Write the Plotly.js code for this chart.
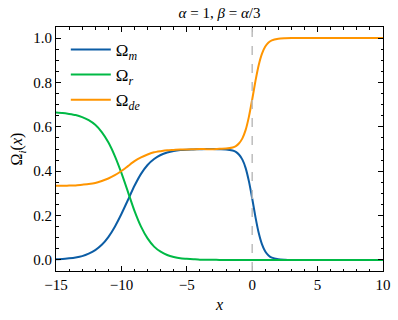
<!DOCTYPE html>
<html>
<head>
<meta charset="utf-8">
<script src="https://cdn.plot.ly/plotly-3.0.1.min.js"></script>
<style>
  body { margin: 0; background: #fff; }
  #plot { width: 398px; height: 320px; }
</style>
</head>
<body>
<div id="plot"></div>
<script>
// x grid of the curves
const xVals = [-15, -14.5, -14, -13.5, -13, -12.5, -12, -11.5, -11, -10.5, -10, -9.5, -9, -8.5, -8,
    -7.5, -7, -6.5, -6, -5.5, -5, -4.5, -4, -3.5, -3, -2.5, -2, -1.5, -1.25, -1, -0.75, -0.5, -0.25,
    0, 0.25, 0.5, 0.75, 1, 1.25, 1.5, 2, 2.5, 3, 4, 5, 6, 7, 8, 9, 10];

// Omega_m (matter)
const omegaM = [0.003, 0.004, 0.007, 0.011, 0.017, 0.028, 0.044, 0.068, 0.103, 0.150, 0.207, 0.270,
    0.334, 0.388, 0.428, 0.455, 0.473, 0.484, 0.491, 0.495, 0.497, 0.498, 0.499, 0.500, 0.500, 0.499,
    0.498, 0.493, 0.487, 0.474, 0.452, 0.414, 0.354, 0.277, 0.193, 0.121, 0.070, 0.038, 0.020, 0.010,
    0.003, 0.001, 0, 0, 0, 0, 0, 0, 0, 0];

// Omega_r (radiation)
const omegaR = [0.664, 0.662, 0.658, 0.653, 0.644, 0.630, 0.609, 0.576, 0.530, 0.468, 0.392, 0.307,
    0.221, 0.150, 0.097, 0.060, 0.037, 0.022, 0.013, 0.007, 0.005, 0.003, 0.001, 0.001, 0.001, 0,
    0, 0, 0, 0, 0, 0, 0, 0, 0, 0, 0, 0, 0, 0,
    0, 0, 0, 0, 0, 0, 0, 0, 0, 0];

// Omega_de (dark energy)
const omegaDE = [0.334, 0.334, 0.335, 0.336, 0.339, 0.342, 0.347, 0.356, 0.367, 0.382, 0.401, 0.423,
    0.445, 0.462, 0.475, 0.485, 0.490, 0.494, 0.496, 0.498, 0.498, 0.499, 0.500, 0.499, 0.499, 0.501,
    0.502, 0.507, 0.513, 0.526, 0.548, 0.586, 0.646, 0.723, 0.807, 0.879, 0.930, 0.962, 0.980, 0.990,
    0.997, 0.999, 1, 1, 1, 1, 1, 1, 1, 1];

const seriesNames = ['Ω<sub><i>m</i></sub>', 'Ω<sub><i>r</i></sub>', 'Ω<sub><i>de</i></sub>'];
const seriesColors = ['#0C5DA5', '#00B945', '#FF9500'];
const seriesData = [omegaM, omegaR, omegaDE];

const xDivide = 0;  // dashed marker line

const serif = 'Times New Roman, Liberation Serif, serif';

const traces = seriesData.map((ys, i) => ({
    x: xVals,
    y: ys,
    mode: 'lines',
    name: seriesNames[i],
    line: {color: seriesColors[i], width: 2, shape: 'spline', smoothing: 0.6}
}));

const axisCommon = {
    showgrid: false,
    zeroline: false,
    showline: true,
    linecolor: '#000',
    linewidth: 1,
    mirror: 'ticks',
    ticks: 'inside',
    ticklen: 5,
    tickwidth: 1,
    tickcolor: '#000',
    tickfont: {family: serif, size: 15, color: '#000'}
};

const layout = {
    width: 398,
    height: 320,
    margin: {l: 56, r: 15, t: 27, b: 49},
    paper_bgcolor: '#fff',
    plot_bgcolor: '#fff',
    font: {family: serif, size: 15, color: '#000'},
    title: {
        text: '<i>α</i> = 1, <i>β</i> = <i>α</i>/3',
        font: {family: serif, size: 15, color: '#000'},
        x: 0.5, xref: 'paper', y: 0.96, yanchor: 'middle'
    },
    xaxis: Object.assign({}, axisCommon, {
        range: [-15, 10],
        dtick: 5,
        minor: {dtick: 1, ticks: 'inside', ticklen: 2.5, tickcolor: '#000'},
        title: {text: '<i>x</i>', font: {family: serif, size: 16}, standoff: 6}
    }),
    yaxis: Object.assign({}, axisCommon, {
        range: [-0.05, 1.05],
        dtick: 0.2,
        tickformat: '.1f',
        minor: {dtick: 0.05, ticks: 'inside', ticklen: 2.5, tickcolor: '#000'},
        title: {text: 'Ω<sub><i>i</i></sub>(<i>x</i>)', font: {family: serif, size: 16}, standoff: 6}
    }),
    shapes: [{
        type: 'line', xref: 'x', yref: 'paper',
        x0: xDivide, x1: xDivide, y0: 0, y1: 1,
        line: {color: '#bdbdbd', width: 1.5, dash: 'dash'}
    }],
    legend: {
        x: 0.03, y: 0.98, xanchor: 'left', yanchor: 'top',
        itemwidth: 40,
        bgcolor: 'rgba(0,0,0,0)',
        font: {family: serif, size: 17, color: '#000'}
    },
    showlegend: true
};

Plotly.newPlot('plot', traces, layout, {displayModeBar: false, staticPlot: true});
</script>
</body>
</html>
